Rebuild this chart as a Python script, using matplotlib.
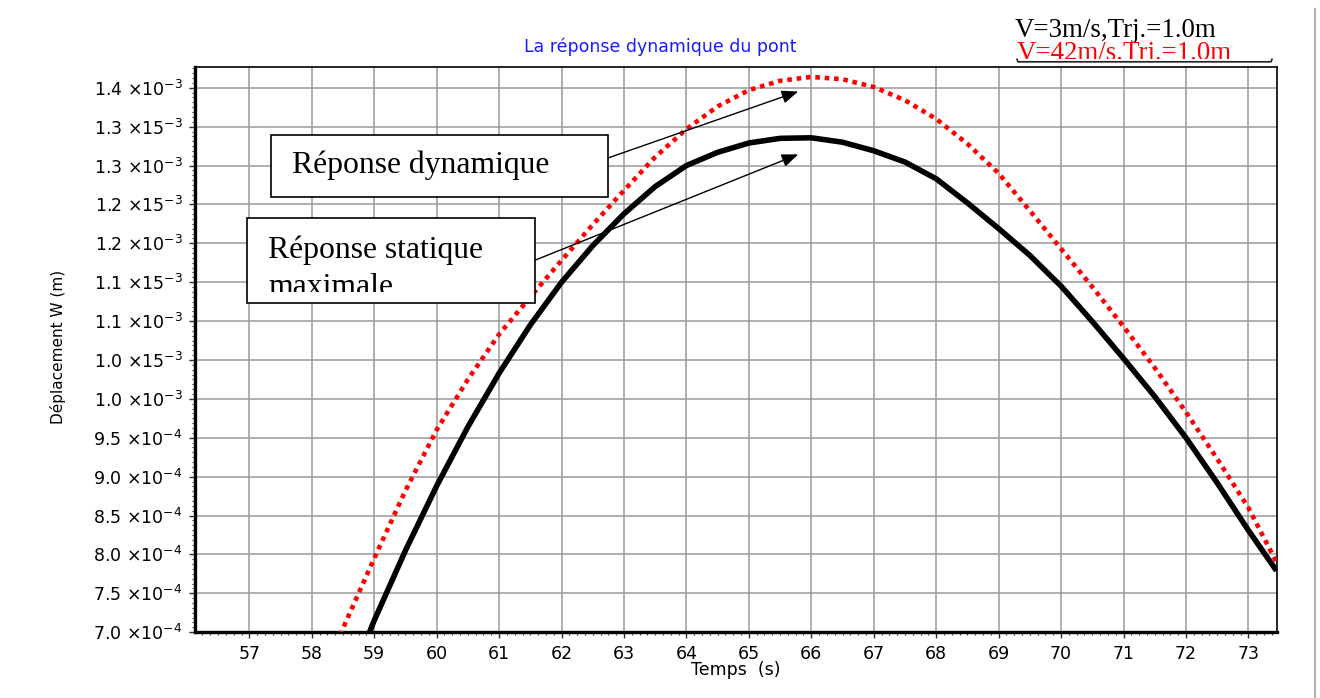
import numpy as np
import matplotlib
matplotlib.use("Agg")
import matplotlib.pyplot as plt
from matplotlib.patches import Rectangle
from matplotlib.lines import Line2D
from matplotlib.ticker import FixedLocator, FixedFormatter, AutoMinorLocator

# ---- data -------------------------------------------------------------
# dynamic response, V = 42 m/s (red)
t_dyn = [58.4, 58.5, 59.0, 59.5, 60.0, 60.5, 61.0, 61.5, 62.0, 62.5, 63.0,
         63.5, 64.0, 64.5, 65.0, 65.5, 66.0, 66.5, 67.0, 67.5, 68.0, 68.5,
         69.0, 69.5, 70.0, 70.5, 71.0, 71.5, 72.0, 72.5, 73.0, 73.45]
w_dyn = [6.85e-4, 7.05e-4, 7.95e-4, 8.82e-4, 9.60e-4, 1.025e-3, 1.083e-3,
         1.131e-3, 1.178e-3, 1.224e-3, 1.268e-3, 1.311e-3, 1.347e-3,
         1.376e-3, 1.397e-3, 1.409e-3, 1.414e-3, 1.411e-3, 1.401e-3,
         1.384e-3, 1.360e-3, 1.328e-3, 1.290e-3, 1.242e-3, 1.193e-3,
         1.144e-3, 1.093e-3, 1.040e-3, 9.83e-4, 9.23e-4, 8.60e-4, 7.90e-4]

# quasi-static response, V = 3 m/s (black)
t_stat = [58.9, 59.0, 59.5, 60.0, 60.5, 61.0, 61.5, 62.0, 62.5, 63.0, 63.5,
          64.0, 64.5, 65.0, 65.5, 66.0, 66.5, 67.0, 67.5, 68.0, 68.5, 69.0,
          69.5, 70.0, 70.5, 71.0, 71.5, 72.0, 72.5, 73.0, 73.45]
w_stat = [6.95e-4, 7.15e-4, 8.05e-4, 8.88e-4, 9.64e-4, 1.033e-3, 1.095e-3,
          1.150e-3, 1.197e-3, 1.238e-3, 1.273e-3, 1.300e-3, 1.317e-3,
          1.329e-3, 1.335e-3, 1.3357e-3, 1.330e-3, 1.319e-3, 1.3045e-3,
          1.283e-3, 1.252e-3, 1.219e-3, 1.1845e-3, 1.145e-3, 1.0995e-3,
          1.052e-3, 1.003e-3, 9.50e-4, 8.92e-4, 8.31e-4, 7.79e-4]

x_ticks = list(range(57, 74))
y_ticks = [7.0e-4, 7.5e-4, 8.0e-4, 8.5e-4, 9.0e-4, 9.5e-4, 1.0e-3, 1.05e-3,
           1.1e-3, 1.15e-3, 1.2e-3, 1.25e-3, 1.3e-3, 1.35e-3, 1.4e-3]
y_mant = ["7.0", "7.5", "8.0", "8.5", "9.0", "9.5", "1.0", "1.0",
          "1.1", "1.1", "1.2", "1.2", "1.3", "1.3", "1.4"]
y_base = ["10", "10", "10", "10", "10", "10", "10", "15",
          "10", "15", "10", "15", "10", "15", "10"]
y_exp = ["-4", "-4", "-4", "-4", "-4", "-4", "-3", "-3",
         "-3", "-3", "-3", "-3", "-3", "-3", "-3"]

legend_labels = ["V=3m/s,Trj.=1.0m", "V=42m/s,Trj.=1.0m"]
title_text = "La réponse dynamique du pont"
xlabel_text = "Temps  (s)"
ylabel_text = "Déplacement W (m)"

# ---- figure -------------------------------------------------------------
plt.rcParams["font.family"] = ["DejaVu Sans"]
plt.rcParams["mathtext.fontset"] = "dejavusans"
plt.rcParams["mathtext.default"] = "regular"

W, H = 1320, 698
fig = plt.figure(figsize=(W / 100, H / 100), dpi=100)
fig.patch.set_facecolor("white")


def fpx(px, py):
    """pixel position (from top-left) -> figure fraction"""
    return px / W, 1 - py / H


ax_l, ax_r, ax_t, ax_b = 195.0, 1276.5, 66.7, 632.2
ax = fig.add_axes([ax_l / W, 1 - ax_b / H, (ax_r - ax_l) / W, (ax_b - ax_t) / H])

ax.set_xlim(56.13, 73.45)
ax.set_ylim(7.0e-4, 1.4271e-3)

# ticks and grid
ax.xaxis.set_major_locator(FixedLocator(x_ticks))
ax.xaxis.set_minor_locator(AutoMinorLocator(8))
ax.yaxis.set_major_locator(FixedLocator(y_ticks))
ax.yaxis.set_minor_locator(AutoMinorLocator(8))
ax.yaxis.set_major_formatter(FixedFormatter(
    [f"{m} ×{b}$^{{{e}}}$" for m, b, e in zip(y_mant, y_base, y_exp)]))
ax.grid(True, which="major", color="#9a9a9a", linewidth=1.1, zorder=0)
ax.set_axisbelow(True)

ax.tick_params(which="major", direction="out", length=4, width=1.0,
               color="#303030", labelsize=12.5, pad=5)
ax.tick_params(which="minor", direction="out", length=2.5, width=0.8,
               color="#404040")

for side in ("left", "bottom"):
    ax.spines[side].set_linewidth(2.4)
for side in ("top", "right"):
    ax.spines[side].set_linewidth(1.2)

# curves
ax.plot(t_stat, w_stat, color="black", linewidth=4.0, solid_capstyle="butt",
        solid_joinstyle="round", zorder=3)
ax.plot(t_dyn, w_dyn, color="#ff0000", linewidth=3.3,
        linestyle=(0, (1.0, 1.05)), dash_capstyle="butt", zorder=4)

# labels
fig.text(*fpx(660, 47), title_text, color="#1a1aff", fontsize=12.5,
         ha="center", va="center")
ax.set_xlabel(xlabel_text, fontsize=12.5)
ax.xaxis.set_label_coords(0.5, -0.051)
ax.set_ylabel(ylabel_text, fontsize=11)
ax.yaxis.set_label_coords(-0.119, 0.504)

# text boxes with arrows
serif = "Liberation Serif"
box1 = Rectangle((0.0703, 0.7701), 0.3113, 0.1091, transform=ax.transAxes,
                 facecolor="white", edgecolor="black", linewidth=1.2, zorder=6)
box2_fill = Rectangle((0.0478, 0.5827), 0.2669, 0.1492, transform=ax.transAxes,
                      facecolor="white", edgecolor="none", zorder=6)
ax.add_patch(box1)
ax.add_patch(box2_fill)
ax.text(0.0894, 0.812, "Réponse dynamique", transform=ax.transAxes,
        family=serif, fontsize=22.8, va="baseline", ha="left", zorder=7)
ax.text(0.0678, 0.6623, "Réponse statique", transform=ax.transAxes,
        family=serif, fontsize=22.8, va="baseline", ha="left", zorder=7)
ax.text(0.0678, 0.5957, "maximale", transform=ax.transAxes,
        family=serif, fontsize=22.8, va="baseline", ha="left", zorder=7)
# the second line is cut off by the lower edge of its frame
ax.add_patch(Rectangle((0.0478, 0.5827), 0.2669, 0.0196, transform=ax.transAxes,
                       facecolor="white", edgecolor="none", zorder=7.5))
ax.add_patch(Rectangle((0.0478, 0.5827), 0.2669, 0.1492, transform=ax.transAxes,
                       facecolor="none", edgecolor="black", linewidth=1.2,
                       zorder=8))

arrow_kw = dict(arrowstyle="-|>,head_length=0.5,head_width=0.2",
                mutation_scale=20, color="black", linewidth=1.0,
                shrinkA=0, shrinkB=0)
ax.annotate("", xy=(65.79, 1.3952e-3), xycoords="data",
            xytext=(0.3819, 0.8386), textcoords="axes fraction",
            arrowprops=arrow_kw, zorder=8)
ax.annotate("", xy=(65.79, 1.3144e-3), xycoords="data",
            xytext=(0.3149, 0.6582), textcoords="axes fraction",
            arrowprops=arrow_kw, zorder=8)

# legend (top right, outside the plot frame)
fig.text(*fpx(1015, 36.7), legend_labels[0], family=serif, fontsize=19.4,
         color="black", va="baseline", ha="left")
t_red = fig.text(*fpx(1016.5, 60.0), legend_labels[1], family=serif,
                 fontsize=19.4, color="#ff0000", va="baseline", ha="left")
t_red.set_clip_path(Rectangle(fpx(0, 59.3), 1, 1, transform=fig.transFigure))
bx = [1017 / W, 1018 / W, 1271 / W, 1272 / W]
by = [1 - 59.3 / H, 1 - 61.8 / H, 1 - 61.8 / H, 1 - 59.3 / H]
fig.add_artist(Line2D(bx, by, transform=fig.transFigure, color="#202020",
                      linewidth=1.2))

# window edge on the right
fig.add_artist(Line2D([1315 / W, 1315 / W], [1 - 9 / H, 0],
                      transform=fig.transFigure, color="#b8b4ac",
                      linewidth=1.6))

fig.savefig("out.png", dpi=100, facecolor="white")
